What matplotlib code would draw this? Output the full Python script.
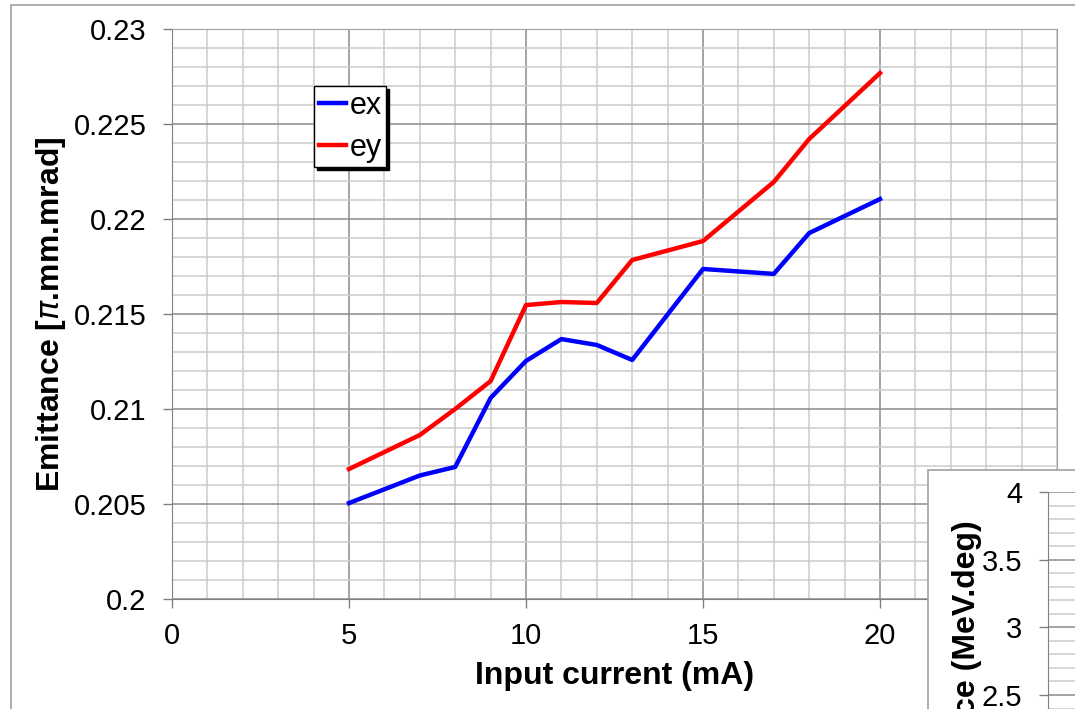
import matplotlib.pyplot as plt
from matplotlib.patches import Rectangle
from matplotlib.ticker import MultipleLocator

plt.rcParams['font.family'] = ['Liberation Sans', 'DejaVu Sans']
plt.rcParams['mathtext.fontset'] = 'dejavusans'

# input current (mA) and emittance values
current = [5, 7, 8, 9, 10, 11, 12, 13, 15, 17, 18, 20]
ex = [0.20505, 0.2065, 0.20695, 0.21058, 0.21253, 0.21368, 0.21337, 0.21258,
      0.21737, 0.21711, 0.21926, 0.22105]
ey = [0.20684, 0.20863, 0.2100, 0.21147, 0.21547, 0.21563, 0.21558, 0.21784,
      0.21884, 0.22195, 0.22421, 0.22768]

xticks = [0, 5, 10, 15, 20]
yticks = [0.2, 0.205, 0.21, 0.215, 0.22, 0.225, 0.23]
yticklabels = ['0.2', '0.205', '0.21', '0.215', '0.22', '0.225', '0.23']

# second chart peeking in at the bottom right
long_ticks = [2.5, 3, 3.5, 4]
long_ticklabels = ['2.5', '3', '3.5', '4']

W, H = 1075, 709
fig = plt.figure(figsize=(W / 100, H / 100), dpi=100)

# outer chart frame
fig.patches.append(Rectangle((11 / W, -0.1), 1.2, (H - 5) / H + 0.1,
                             transform=fig.transFigure, facecolor='none',
                             edgecolor='#a0a0a0', lw=1.2, zorder=-1))

ax = fig.add_axes([172 / W, (H - 599) / H, 885 / W, 570 / H])
ax.plot(current, ex, color='#0000ff', lw=3.2, label='ex', zorder=3)
ax.plot(current, ey, color='#ff0000', lw=3.2, label='ey', zorder=3)

ax.set_xlim(0, 25)
ax.set_ylim(0.2, 0.23)
ax.set_xticks(xticks)
ax.set_yticks(yticks)
ax.set_yticklabels(yticklabels)
ax.xaxis.set_minor_locator(MultipleLocator(1))
ax.yaxis.set_minor_locator(MultipleLocator(0.001))
ax.grid(which='major', color='#8c8c8c', lw=1.1)
ax.grid(which='minor', color='#cccccc', lw=1.1)
ax.set_axisbelow(True)
ax.tick_params(which='major', direction='out', length=6.5, width=1,
               color='#808080', labelsize=21)
ax.tick_params(axis='y', pad=12)
ax.tick_params(axis='x', pad=10)
ax.tick_params(which='minor', length=0)
for side in ['left', 'bottom']:
    ax.spines[side].set_color('#808080')
for side in ['top', 'right']:
    ax.spines[side].set_color('#a0a0a0')

ax.set_xlabel('Input current (mA)', fontsize=23, fontweight='bold', labelpad=8)
ax.set_ylabel(r'Emittance [$\pi$.mm.mrad]', fontsize=23, fontweight='bold',
              labelpad=4)

leg = ax.legend(loc='upper left',
                bbox_to_anchor=((314 - 172) / 885, (599 - 86) / 570),
                borderaxespad=0, fontsize=22, frameon=True, fancybox=False,
                framealpha=1, edgecolor='black', handlelength=0.9,
                handletextpad=0.12, borderpad=0.15, labelspacing=0.4,
                shadow={'color': 'black', 'alpha': 1})
leg.get_frame().set_linewidth(1)

# overlapping second chart box
fig.patches.append(Rectangle((928 / W, -0.1), 1, (H - 470) / H + 0.1,
                             transform=fig.transFigure, facecolor='white',
                             edgecolor='#a0a0a0', lw=1.2, zorder=1))

px_per_unit = (695 - 492) / 1.5
bottom_px = 492 + 2 * px_per_unit
ax2 = fig.add_axes([1048 / W, (H - bottom_px) / H, 0.2, 2 * px_per_unit / H])
ax2.set_zorder(2)
ax2.set_ylim(2, 4)
ax2.set_xlim(0, 1)
ax2.set_yticks(long_ticks)
ax2.set_yticklabels(long_ticklabels)
ax2.set_xticks([])
ax2.yaxis.set_minor_locator(MultipleLocator(0.1))
ax2.grid(axis='y', which='major', color='#8c8c8c', lw=1.1)
ax2.grid(axis='y', which='minor', color='#cccccc', lw=1.1)
ax2.tick_params(which='major', direction='out', length=6.5, width=1,
                color='#808080', labelsize=21, pad=12)
ax2.tick_params(which='minor', length=0)
ax2.spines['left'].set_color('#808080')
for side in ['top', 'right', 'bottom']:
    ax2.spines[side].set_visible(False)

fig.text(967 / W, (H - 520) / H, 'Emittance (MeV.deg)', rotation=90,
         ha='center', va='top', fontsize=23, fontweight='bold', zorder=3)

fig.savefig('out.png', dpi=100)
